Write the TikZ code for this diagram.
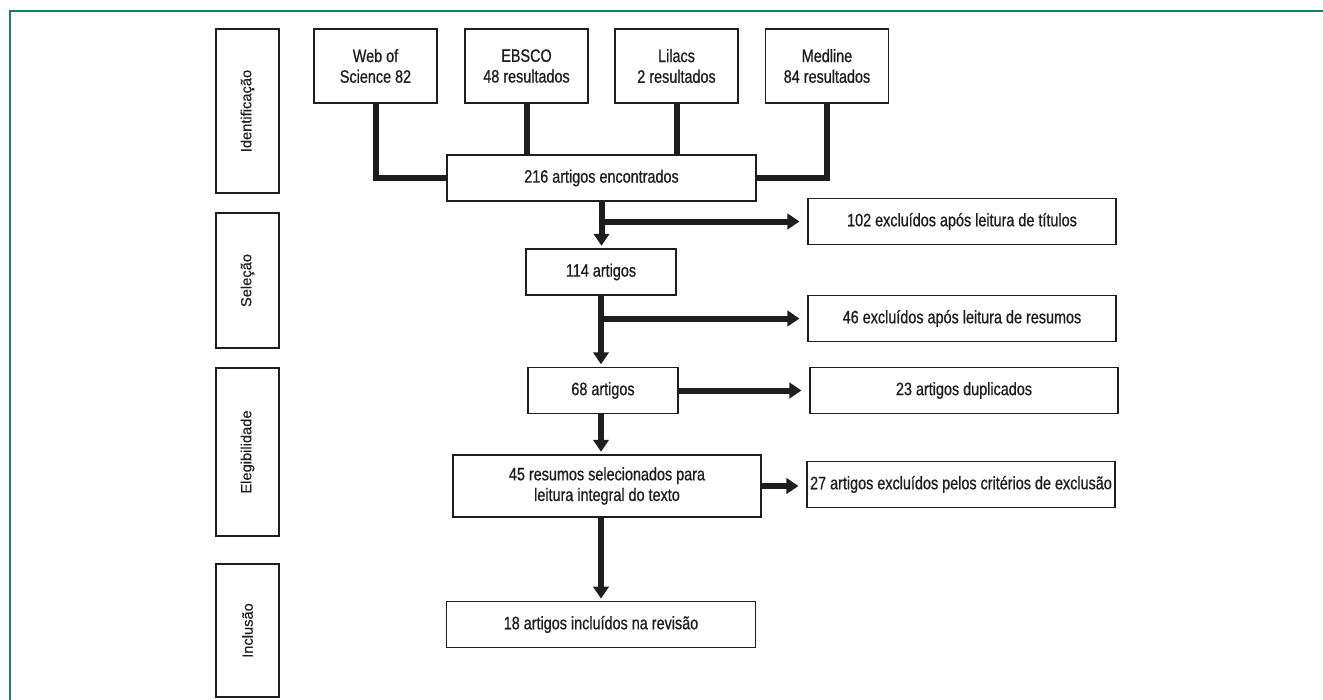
\documentclass[tikz,border=0pt]{standalone}
\usepackage{fontspec}
\setmainfont{Liberation Sans}
\newfontfamily\narrowfont[FakeStretch=0.8,FakeBold=0.8]{Liberation Sans}
\newfontfamily\phasefont[FakeBold=0.4]{Liberation Sans}
\usepackage{xcolor}
\usetikzlibrary{arrows.meta}
\definecolor{frameteal}{HTML}{1F7A6B}
\definecolor{inkgray}{HTML}{1E1E1E}
\tikzset{
  phasebox/.style={draw=inkgray,line width=0.9pt,rotate=90,minimum height=47.25pt,inner sep=0pt,
    font=\phasefont\fontsize{11}{13}\selectfont,text=inkgray},
  flowbox/.style={draw=inkgray,line width=0.8pt,inner sep=0pt,align=center,
    font=\narrowfont\fontsize{13.5}{15.5}\selectfont,text=inkgray},
  srcbox/.style={flowbox,minimum width=92.25pt,minimum height=55.5pt},
  stepbox/.style={flowbox,minimum width=112.5pt,minimum height=34.5pt},
  widebox/.style={flowbox,minimum width=231pt,minimum height=34pt},
  conn/.style={draw=inkgray,line width=4.5pt},
  arr/.style={conn,-{Triangle[width=11.5pt,length=9pt]},shorten >=2pt},
  sidearr/.style={arr,shorten >=6pt}
}
\begin{document}
\begin{tikzpicture}[line join=miter,x=0.75pt,y=-0.75pt]
\useasboundingbox (0,0) rectangle (1323,699);
\draw [frameteal,line width=1.5pt] (10,730) -- (10,11) -- (1340,11);

\node [phasebox,minimum width=123pt] (idf) at (247.5,111) {Identificação};
\node [phasebox,minimum width=101.25pt] (sel) at (247.5,280.5) {Seleção};
\node [phasebox,minimum width=126pt] (ele) at (247.5,452) {Elegibilidade};
\node [phasebox,minimum width=99.75pt] (inc) at (247.5,630.5) {Inclusão};

\node [srcbox] (web) at (375.5,66) {Web of\\Science 82};
\node [srcbox] (ebsco) at (526.5,66) {EBSCO\\48 resultados};
\node [srcbox] (lilacs) at (676.5,66) {Lilacs\\2 resultados};
\node [srcbox] (medline) at (827,66) {Medline\\84 resultados};

\node [widebox,minimum width=231.75pt,minimum height=34.5pt] (found) at (601.5,178) {216 artigos encontrados};
\node [widebox] (titles) at (962,221.5) {102 excluídos após leitura de títulos};
\node [stepbox] (sel114) at (601,272) {114 artigos};
\node [widebox] (abstracts) at (962,318.5) {46 excluídos após leitura de resumos};
\node [stepbox] (el68) at (603,390.5) {68 artigos};
\node [widebox] (dupes) at (964,390.5) {23 artigos duplicados};
\node [widebox,minimum height=46.5pt] (fulltext) at (607,486) {45 resumos selecionados para\\leitura integral do texto};
\node [widebox] (criteria) at (961,484.5) {27 artigos excluídos pelos critérios de exclusão};
\node [widebox,minimum width=231.75pt] (included) at (601,624.5) {18 artigos incluídos na revisão};

\draw [conn] (web) |- (found);
\draw [conn] (ebsco) -- (ebsco.south |- found.north);
\draw [conn] (lilacs) -- (lilacs.south |- found.north);
\draw [conn] (medline) |- (found);

\draw [arr] (found.south) -- (found.south |- sel114.north);
\draw [sidearr] ([xshift=-2.25pt]found.south |- titles) -- (titles);
\draw [arr] (sel114.south) -- (sel114.south |- el68.north);
\draw [sidearr] ([xshift=-2.25pt]sel114.south |- abstracts) -- (abstracts);
\draw [sidearr] (el68) -- (dupes);
\draw [arr] (sel114.south |- el68.south) -- (sel114.south |- fulltext.north);
\draw [sidearr] (fulltext.east) -- (fulltext.east -| criteria.west);
\draw [arr] (sel114.south |- fulltext.south) -- (sel114.south |- included.north);
\end{tikzpicture}
\end{document}
